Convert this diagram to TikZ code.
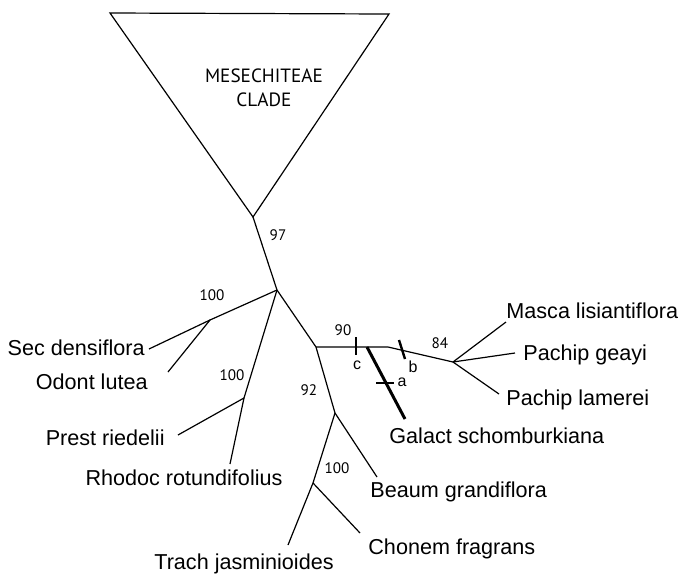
\documentclass[tikz,border=0pt]{standalone}
\usepackage{fontspec}
\setmainfont{Liberation Sans}
\newfontfamily\numfont{PT Sans}
\usepackage{tikz}
\usetikzlibrary{positioning,calc}
\tikzset{
  br/.style    ={draw=black, line width=0.6pt},
  thickbr/.style={draw=black, line width=1.5pt},
  tick/.style  ={draw=black, line width=1.2pt},
  taxon/.style ={font=\fontsize{10.8}{12}\selectfont, inner sep=0pt},
  supp/.style  ={font=\numfont\fontsize{7.6}{9}\selectfont, inner sep=0pt},
  charlbl/.style={font=\fontsize{8}{9}\selectfont, inner sep=0pt}
}

\begin{document}
\begin{tikzpicture}[x=0.5pt,y=-0.5pt]
\useasboundingbox (0,0) rectangle (682,575);

% clade triangle
\coordinate (tl) at (110,13);
\coordinate (tr) at (389,14);
\coordinate (apex) at (253,217);
\draw[br, line join=miter] (tl) -- (tr) -- (apex) -- cycle;
\node[font=\numfont\fontsize{9.6}{12}\selectfont, align=center] (clade) at (264,88)
  {MESECHITEAE\\CLADE};

% internal nodes
\coordinate (n1) at (277,290);
\coordinate (nsec) at (210,320);
\coordinate (nprest) at (244,398);
\coordinate (n3) at (316,347);
\coordinate (nbend) at (388,347);
\coordinate (ngal) at (367,347);
\coordinate (n4) at (453,362);
\coordinate (n5) at (335,413);
\coordinate (n6) at (313,483);

% leaf ends
\coordinate (esec) at (149,349);
\coordinate (eodont) at (168,372);
\coordinate (eprest) at (178,435);
\coordinate (erhodoc) at (230,464);
\coordinate (egal) at (405,419);
\coordinate (emasca) at (506,322);
\coordinate (egeayi) at (515,353);
\coordinate (elam) at (499,394);
\coordinate (ebeaum) at (377,477);
\coordinate (etrach) at (288,545);
\coordinate (echon) at (360,533);

% branches
\draw[br] (apex) -- (n1);
\draw[br] (n1) -- (nsec);
\draw[br] (nsec) -- (esec);
\draw[br] (nsec) -- (eodont);
\draw[br] (n1) -- (nprest);
\draw[br] (nprest) -- (eprest);
\draw[br] (nprest) -- (erhodoc);
\draw[br] (n1) -- (n3);
\draw[br] (n3) -- (nbend) -- (n4);
\draw[thickbr] (ngal) -- (egal);
\draw[br] (n4) -- (emasca);
\draw[br] (n4) -- (egeayi);
\draw[br] (n4) -- (elam);
\draw[br] (n3) -- (n5);
\draw[br] (n5) -- (ebeaum);
\draw[br] (n5) -- (n6);
\draw[br] (n6) -- (etrach);
\draw[br] (n6) -- (echon);

% character marks
\draw[tick] (356,337) -- (356,355);
\draw[tick] (399,340) -- (405,359);
\draw[tick] (376,383) -- (394,383);
\node[charlbl] (mc) at (357,365) {c};
\node[charlbl] (mb) at (413,367) {b};
\node[charlbl] (ma) at (402,382) {a};

% support values
\node[supp] (s97) at (278,235) {97};
\node[supp] (s100a) at (212,295) {100};
\node[supp] (s100b) at (232,375) {100};
\node[supp] (s90) at (343,330) {90};
\node[supp] (s84) at (440,343) {84};
\node[supp] (s92) at (309,390) {92};
\node[supp] (s100c) at (337,468) {100};

% taxa
\node[taxon, anchor=east] (tsec) at (145,348) {Sec densiflora};
\node[taxon, anchor=east] (todont) at (148,382) {Odont lutea};
\node[taxon, anchor=east] (tprest) at (165,438) {Prest riedelii};
\node[taxon] (trhodoc) at (184,478) {Rhodoc rotundifolius};
\node[taxon, anchor=west] (tgal) at (389,436) {Galact schomburkiana};
\node[taxon, anchor=west] (tmasca) at (506,311) {Masca lisiantiflora};
\node[taxon, anchor=west] (tgeayi) at (523,355) {Pachip geayi};
\node[taxon, anchor=west] (tlam) at (506,400) {Pachip lamerei};
\node[taxon, anchor=west] (tbeaum) at (370,492) {Beaum grandiflora};
\node[taxon, anchor=west] (tchon) at (368,549) {Chonem fragrans};
\node[taxon] (ttrach) at (244,564) {Trach jasminioides};
\end{tikzpicture}
\end{document}
